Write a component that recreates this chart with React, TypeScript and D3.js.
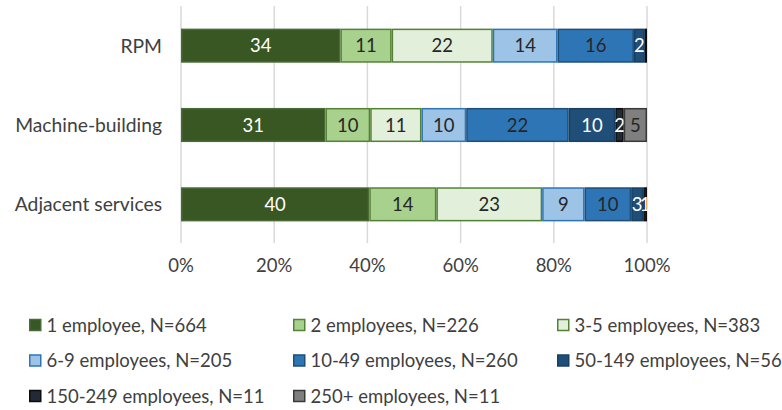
import * as d3 from 'd3';

const categories = ['RPM', 'Machine-building', 'Adjacent services'];

const seriesNames = [
  '1 employee, N=664',
  '2 employees, N=226',
  '3-5 employees, N=383',
  '6-9 employees, N=205',
  '10-49 employees, N=260',
  '50-149 employees, N=56',
  '150-249 employees, N=11',
  '250+ employees, N=11'
];

// share of firms (%) per category, in series order
const rpmValues = [34.2, 11.0, 21.7, 13.9, 16.4, 2.35, 0.45, 0];
const machineValues = [31.0, 9.6, 11.0, 9.6, 22.0, 10.0, 1.8, 5.0];
const adjacentValues = [40.4, 14.4, 22.7, 9.1, 10.0, 2.6, 0.8, 0];

const tickValues = [0, 20, 40, 60, 80, 100];

const fills = ['#385723', '#a9d18e', '#e2efda', '#9dc3e6', '#2e75b6', '#1f4e79', '#222a35', '#7f7f7f'];
const strokes = ['#4a6a38', '#548235', '#548235', '#2e75b6', '#1f4e79', '#1b3f61', '#0d0d0d', '#3a3a3a'];
const labelColors = ['#ffffff', '#262626', '#262626', '#262626', '#262626', '#ffffff', '#ffffff', '#262626'];

const FONT = 'Lato, "Open Sans", sans-serif';
const TEXT = '#404040';

export default function App() {
  const width = 782;
  const height = 410;
  const rows = [rpmValues, machineValues, adjacentValues];

  const x = d3.scaleLinear().domain([0, 100]).range([181, 647]);
  const y = d3.scaleBand<string>()
    .domain(categories)
    .range([6, 244])
    .paddingInner(0.57)
    .paddingOuter(0.285);

  const legendX = d3.scalePoint<number>().domain([0, 1, 2]).range([29, 557]);
  const legendY = d3.scalePoint<number>().domain([0, 1, 2]).range([325, 396]);

  return (
    <svg
      width={width}
      height={height}
      style={{ position: 'absolute', left: 0, top: 0, background: '#fff' }}
      fontFamily={FONT}
    >
      {/* grid */}
      {tickValues.map(t => (
        <line key={t} x1={x(t)} x2={x(t)} y1={6} y2={243} stroke="#d9d9d9" strokeWidth={1.5} />
      ))}

      {/* bars */}
      {categories.map((cat, ci) => {
        const vals = rows[ci];
        const stack = d3.cumsum(vals);
        const y0 = y(cat)!;
        const bh = y.bandwidth();
        return (
          <g key={cat}>
            {vals.map((v, si) => {
              if (v <= 0) return null;
              const start = stack[si] - v;
              const x0 = x(start);
              const x1 = x(stack[si]);
              const lbl = Math.round(v);
              return (
                <g key={si}>
                  <rect
                    x={x0 + 0.75}
                    y={y0 + 0.75}
                    width={Math.max(0.5, x1 - x0 - 1.5)}
                    height={bh - 1.5}
                    fill={fills[si]}
                    stroke={strokes[si]}
                    strokeWidth={1.5}
                  />
                  {lbl >= 1 && (
                    <text
                      x={(x0 + x1) / 2}
                      y={y0 + bh / 2}
                      dy="0.36em"
                      textAnchor="middle"
                      fontSize={18.5}
                      fill={labelColors[si]}
                    >
                      {lbl}
                    </text>
                  )}
                </g>
              );
            })}
            <text
              x={162}
              y={y0 + bh / 2}
              dy="0.36em"
              textAnchor="end"
              fontSize={19.3}
              fill={TEXT}
            >
              {cat}
            </text>
          </g>
        );
      })}

      {/* x tick labels */}
      {tickValues.map(t => (
        <text key={t} x={x(t)} y={265} dy="0.36em" textAnchor="middle" fontSize={18.5} fill={TEXT}>
          {d3.format('.0%')(t / 100)}
        </text>
      ))}

      {/* legend */}
      {seriesNames.map((name, i) => {
        const col = i % 3;
        const row = Math.floor(i / 3);
        const lx = legendX(col)!;
        const ly = legendY(row)!;
        return (
          <g key={name}>
            <rect x={lx + 0.75} y={ly - 5.5} width={11} height={11} fill={fills[i]} stroke={strokes[i]} strokeWidth={1.5} />
            <text x={lx + 17.5} y={ly} dy="0.36em" fontSize={18.5} fill={TEXT}>
              {name}
            </text>
          </g>
        );
      })}
    </svg>
  );
}
